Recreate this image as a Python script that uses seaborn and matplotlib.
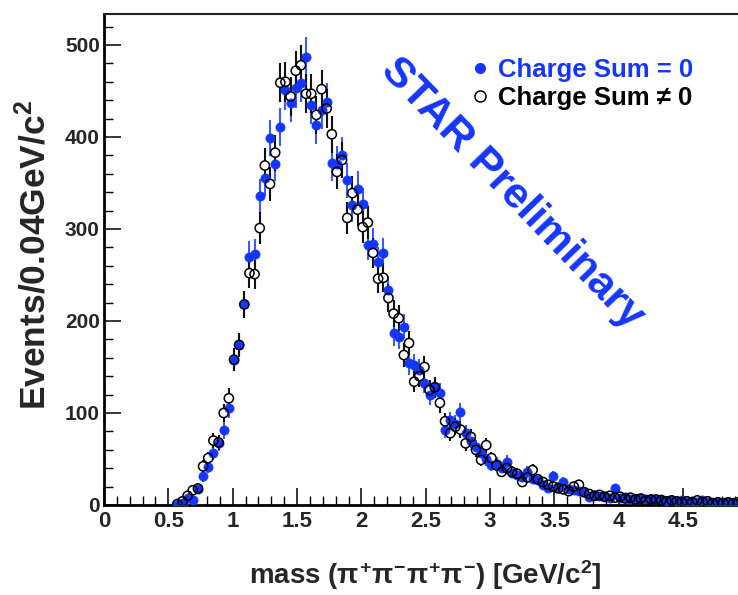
import numpy as np
import pandas as pd
import matplotlib
matplotlib.use("Agg")
import matplotlib.pyplot as plt
import seaborn as sns
from matplotlib.ticker import MultipleLocator
from matplotlib.lines import Line2D

# ---------------- data ----------------
bin_width = 0.04          # GeV/c^2
first_bin_center = 0.57   # GeV/c^2

charge_sum_zero = [
    0, 2, 8, 5, 17, 31, 41, 57, 67, 81,
    105, 158, 174, 218, 270, 273, 336, 355, 399, 371,
    411, 451, 437, 453, 459, 487, 435, 413, 429, 438,
    372, 371, 380, 353, 326, 344, 327, 283, 284, 264,
    274, 234, 187, 183, 194, 154, 152, 147, 133, 120,
    128, 122, 82, 92, 88, 101, 78, 70, 63, 56,
    50, 43, 45, 40, 47, 35, 33, 30, 36, 28,
    27, 22, 18, 31, 20, 25, 17, 16, 15, 14,
    9, 11, 10, 9, 8, 19, 8, 9, 7, 6,
    8, 6, 7, 5, 6, 4, 5, 4, 5, 3,
    4, 3, 5, 3, 2, 3, 2, 3, 2, 2,
]

charge_sum_nonzero = [
    1, 4, 10, 16, 18, 42, 51, 70, 68, 100,
    116, 158, 174, 218, 252, 251, 301, 369, 349, 383,
    459, 460, 444, 472, 478, 447, 447, 424, 452, 431,
    403, 362, 375, 312, 339, 321, 302, 307, 274, 246,
    247, 225, 208, 203, 163, 176, 134, 140, 150, 125,
    128, 111, 91, 78, 85, 82, 67, 74, 60, 49,
    65, 51, 43, 36, 40, 36, 34, 25, 30, 38,
    28, 25, 22, 20, 18, 17, 15, 20, 22, 14,
    12, 10, 11, 9, 10, 8, 9, 7, 8, 6,
    7, 5, 6, 6, 5, 4, 5, 4, 3, 4,
    3, 5, 3, 4, 2, 3, 2, 3, 2, 3,
]

series_labels = ["Charge Sum = 0", "Charge Sum \u2260 0"]
x_ticks = [0, 0.5, 1, 1.5, 2, 2.5, 3, 3.5, 4, 4.5]
y_ticks = [0, 100, 200, 300, 400, 500]

# ---------------- build table ----------------
mass = np.round(first_bin_center + bin_width * np.arange(len(charge_sum_zero)), 3)
df = pd.DataFrame({
    "mass": np.concatenate([mass, mass]),
    "events": np.array(charge_sum_zero + charge_sum_nonzero, dtype=float),
    "series": [series_labels[0]] * len(mass) + [series_labels[1]] * len(mass),
})
df["err"] = np.sqrt(df["events"])

# ---------------- style ----------------
sns.set_theme(style="ticks")
plt.rcParams["font.family"] = ["Liberation Sans", "DejaVu Sans"]
plt.rcParams["font.weight"] = "bold"
plt.rcParams["mathtext.fontset"] = "custom"
plt.rcParams["mathtext.rm"] = "Liberation Sans:bold"
plt.rcParams["mathtext.it"] = "Liberation Sans:bold"
plt.rcParams["mathtext.bf"] = "Liberation Sans:bold"

BLUE = "#1536ff"
BLUE_BAR = "#3a5cff"

fig = plt.figure(figsize=(7.38, 5.95), dpi=100)
ax = fig.add_axes([104 / 738, 1 - 505 / 595, 1 - 104 / 738, (505 - 14) / 595])

d0 = df[df["series"] == series_labels[0]]
d1 = df[df["series"] == series_labels[1]]

# error bars
ax.vlines(d0["mass"], d0["events"] - d0["err"], d0["events"] + d0["err"],
          color=BLUE_BAR, lw=1.5, zorder=2)
ax.vlines(d1["mass"], d1["events"] - d1["err"], d1["events"] + d1["err"],
          color="#111111", lw=1.5, zorder=2.1)

# open-marker white interior (hides bar inside the hollow circle)
sns.scatterplot(data=d1, x="mass", y="events", ax=ax, marker="o", s=44,
                color="white", edgecolor="none", linewidth=0, zorder=3, legend=False)
# filled blue markers
sns.scatterplot(data=d0, x="mass", y="events", ax=ax, marker="o", s=44,
                color=BLUE, edgecolor=BLUE, linewidth=0.5, zorder=4, legend=False)
# open markers outline
sns.scatterplot(data=d1, x="mass", y="events", ax=ax, marker="o", s=44,
                facecolor="none", edgecolor="black", linewidth=1.1, zorder=5, legend=False)

ax.set_xlim(0, (738 - 104) / 128.7)
ax.set_ylim(0, (505 - 14) / 0.92)
ax.set_xticks(x_ticks)
ax.set_xticklabels([f"{t:g}" for t in x_ticks])
ax.set_yticks(y_ticks)
ax.xaxis.set_minor_locator(MultipleLocator(0.1))
ax.yaxis.set_minor_locator(MultipleLocator(20))

ax.tick_params(which="major", direction="in", length=12.5, width=1.1, color="black",
               top=False, right=False)
ax.tick_params(which="minor", direction="in", length=6.5, width=1.0, color="black",
               top=False, right=False)
ax.tick_params(axis="x", which="major", labelsize=16, pad=4)
ax.tick_params(axis="y", which="major", labelsize=15, pad=3)
for lab in ax.get_xticklabels() + ax.get_yticklabels():
    lab.set_fontweight("bold")

for side in ["left", "bottom"]:
    ax.spines[side].set_linewidth(2.0)
    ax.spines[side].set_color("black")
ax.spines["top"].set_linewidth(1.5)
ax.spines["top"].set_color("#222222")
ax.spines["right"].set_visible(False)

ax.set_xlabel(r"mass ($\pi^{+}\pi^{-}\pi^{+}\pi^{-}$) [GeV/c$^{2}$]",
              fontsize=20, fontweight="bold")
ax.xaxis.set_label_coords((425 - 104) / 634, (505 - 558) / 491)
ax.set_ylabel(r"Events/0.04GeV/c$^{2}$", fontsize=25.5, fontweight="bold")
ax.yaxis.set_label_coords((52 - 104) / 634, 0.51)

# legend
handles = [
    Line2D([], [], ls="none", marker="o", markersize=7, color=BLUE, markeredgecolor=BLUE),
    Line2D([], [], ls="none", marker="o", markersize=8, markerfacecolor="white",
           markeredgecolor="black", markeredgewidth=1.1),
]
leg = ax.legend(handles, series_labels, loc="center left",
                bbox_to_anchor=(468 / 738, 1 - 84 / 595), bbox_transform=fig.transFigure,
                frameon=False, handlelength=0.9, handletextpad=0.25, labelspacing=0.15,
                borderpad=0, borderaxespad=0,
                prop={"family": ["Liberation Sans", "DejaVu Sans"], "weight": "bold", "size": 18.5})
leg.get_texts()[0].set_color(BLUE)
leg.get_texts()[1].set_color("black")

# STAR Preliminary watermark
fig.text(512 / 738, 1 - 193 / 595, "STAR Preliminary", rotation=-46,
         rotation_mode="anchor", ha="center", va="center",
         fontsize=31, fontweight="bold", color=BLUE)

fig.savefig("out.png", dpi=100)
